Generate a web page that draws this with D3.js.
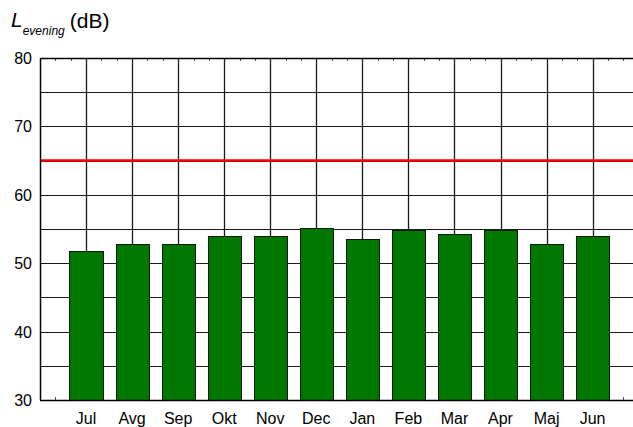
<!DOCTYPE html>
<style>
    body { margin: 0; background: #fff; }
    svg { font-family: "Liberation Sans", Arial, sans-serif; }
</style>
<svg width="633" height="427"></svg>
<script src="https://d3js.org/d3.v7.min.js"></script>
<script>

    var months = ["Jul", "Avg", "Sep", "Okt", "Nov", "Dec", "Jan", "Feb", "Mar", "Apr", "Maj", "Jun"];
    var levels = [51.8, 52.8, 52.8, 54.0, 54.0, 55.1, 53.5, 54.9, 54.2, 54.9, 52.8, 54.0];
    var limitLevel = 65;
    var yTickValues = [30, 40, 50, 60, 70, 80];
    var yGridValues = [35, 40, 45, 50, 55, 60, 65, 70, 75];

    var svg = d3.select("svg"),
        margin = {top: 58, left: 40, bottom: 400};

    var x = d3.scaleLinear()
        .domain([0, 13])
        .range([margin.left, margin.left + 13 * 46.05]);

    var y = d3.scaleLinear()
        .domain([30, 80])
        .range([margin.bottom, margin.top]);

    var right = x(13);

    // horizontal grid
    svg.append("g")
        .selectAll("line")
        .data(yGridValues)
        .enter().append("line")
        .attr("x1", x(0))
        .attr("x2", right)
        .attr("y1", function(d) { return Math.round(y(d)) + 0.5; })
        .attr("y2", function(d) { return Math.round(y(d)) + 0.5; })
        .attr("stroke", "#1a1a1a")
        .attr("stroke-width", 1);

    // vertical grid at each month
    svg.append("g")
        .selectAll("line")
        .data(months)
        .enter().append("line")
        .attr("x1", function(d, i) { return Math.round(x(i + 1)) + 0.5; })
        .attr("x2", function(d, i) { return Math.round(x(i + 1)) + 0.5; })
        .attr("y1", y(80))
        .attr("y2", y(30))
        .attr("stroke", "#1a1a1a")
        .attr("stroke-width", 1.3);

    // minor ticks on top and bottom
    var minor = d3.range(1, 39).map(function(k) { return k / 3; }).filter(function(v) { return Math.abs(v - Math.round(v)) > 0.01; });
    svg.append("g")
        .selectAll("line.tt")
        .data(minor)
        .enter().append("line")
        .attr("x1", function(d) { return Math.round(x(d)) + 0.5; })
        .attr("x2", function(d) { return Math.round(x(d)) + 0.5; })
        .attr("y1", y(80))
        .attr("y2", y(80) + 3)
        .attr("stroke", "#555");
    svg.append("g")
        .selectAll("line.bt")
        .data(minor)
        .enter().append("line")
        .attr("x1", function(d) { return Math.round(x(d)) + 0.5; })
        .attr("x2", function(d) { return Math.round(x(d)) + 0.5; })
        .attr("y1", y(30))
        .attr("y2", y(30) - 3)
        .attr("stroke", "#555");

    // limit line
    svg.append("line")
        .attr("x1", x(0))
        .attr("x2", right)
        .attr("y1", y(limitLevel))
        .attr("y2", y(limitLevel))
        .attr("stroke", "#ff0000")
        .attr("stroke-width", 2.5);

    // bars
    var half = 0.36;
    svg.append("g")
        .selectAll("rect")
        .data(levels)
        .enter().append("rect")
        .attr("x", function(d, i) { return Math.round(x(i + 1 - half)) + 0.5; })
        .attr("width", function(d, i) { return Math.round(x(i + 1 + half)) - Math.round(x(i + 1 - half)); })
        .attr("y", function(d) { return Math.round(y(d)) + 0.5; })
        .attr("height", function(d) { return Math.round(y(30)) - Math.round(y(d)); })
        .attr("fill", "#007800")
        .attr("stroke", "#0a1a0a")
        .attr("stroke-width", 1);

    // frame: left, top, bottom
    svg.append("line")
        .attr("x1", x(0) + 0.5).attr("x2", x(0) + 0.5)
        .attr("y1", y(80)).attr("y2", y(30))
        .attr("stroke", "#000").attr("stroke-width", 1.5);
    svg.append("line")
        .attr("x1", x(0)).attr("x2", right)
        .attr("y1", Math.round(y(80)) + 0.5).attr("y2", Math.round(y(80)) + 0.5)
        .attr("stroke", "#000").attr("stroke-width", 1.5);
    svg.append("line")
        .attr("x1", x(0)).attr("x2", right)
        .attr("y1", Math.round(y(30)) + 0.5).attr("y2", Math.round(y(30)) + 0.5)
        .attr("stroke", "#000").attr("stroke-width", 1.5);

    // y tick labels
    svg.append("g")
        .selectAll("text")
        .data(yTickValues)
        .enter().append("text")
        .attr("x", 32)
        .attr("y", function(d) { return y(d) + 6; })
        .attr("text-anchor", "end")
        .attr("font-size", 16)
        .attr("fill", "#000")
        .text(function(d) { return d; });

    // x labels
    svg.append("g")
        .selectAll("text")
        .data(months)
        .enter().append("text")
        .attr("x", function(d, i) { return x(i + 1); })
        .attr("y", 424)
        .attr("text-anchor", "middle")
        .attr("font-size", 16)
        .attr("fill", "#000")
        .text(function(d) { return d; });

    // axis title
    var title = svg.append("text")
        .attr("x", 11)
        .attr("y", 27)
        .attr("fill", "#000");
    title.append("tspan")
        .attr("font-size", 21)
        .attr("font-style", "italic")
        .text("L");
    title.append("tspan")
        .attr("font-size", 12)
        .attr("font-style", "italic")
        .attr("dy", 8)
        .text("evening");
    title.append("tspan")
        .attr("font-size", 21)
        .attr("dy", -7)
        .attr("dx", 5)
        .text("(dB)");

</script>
